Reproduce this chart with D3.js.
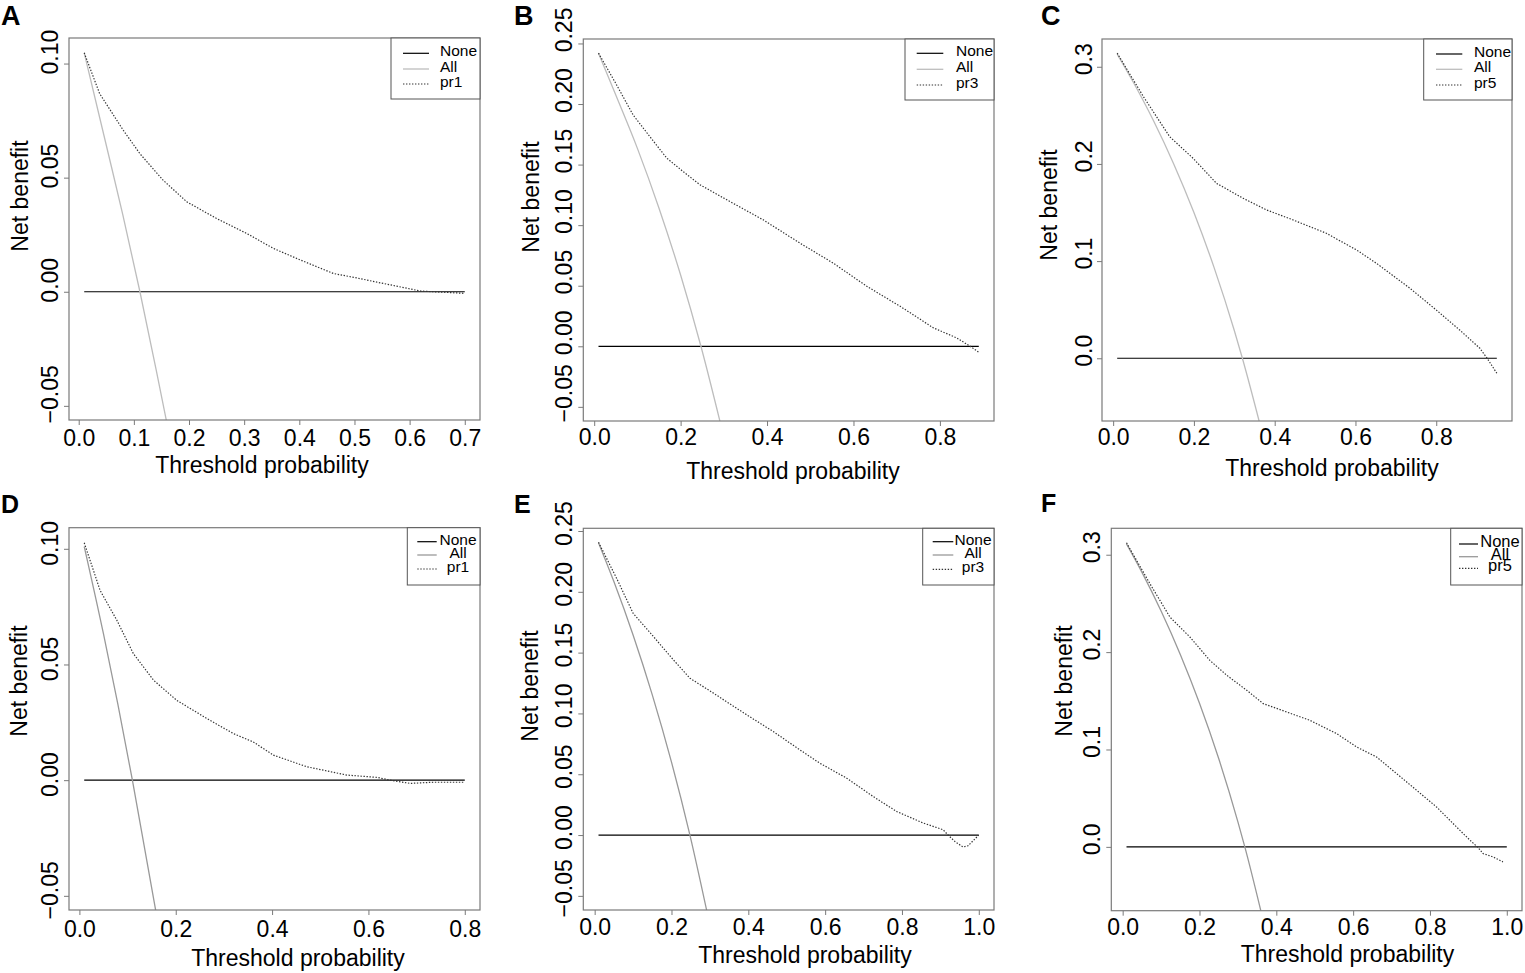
<!DOCTYPE html>
<html>
<head>
<meta charset="utf-8">
<script src="https://cdn.jsdelivr.net/npm/d3@7"></script>
<style>
  body { margin: 0; background: #fff; }
  text { font-family: "Liberation Sans", Arial, sans-serif; }
</style>
</head>
<body>
<div id="chart"></div>
<script>
// ---- data ----
const panelLetters = ["A", "B", "C", "D", "E", "F"];
const modelNames = ["pr1", "pr3", "pr5", "pr1", "pr3", "pr5"];
const legendLabels = ["None", "All"];

const xLimits = [[0.01, 0.70], [0.01, 0.89], [0.01, 0.95], [0.01, 0.80], [0.01, 1.0], [0.01, 1.0]];
const yLimits = [[-0.05, 0.105], [-0.05, 0.242], [-0.05, 0.314], [-0.05, 0.103], [-0.05, 0.2406], [-0.051, 0.3126]];

const xTicks = [
  [0.0, 0.1, 0.2, 0.3, 0.4, 0.5, 0.6, 0.7],
  [0.0, 0.2, 0.4, 0.6, 0.8],
  [0.0, 0.2, 0.4, 0.6, 0.8],
  [0.0, 0.2, 0.4, 0.6, 0.8],
  [0.0, 0.2, 0.4, 0.6, 0.8, 1.0],
  [0.0, 0.2, 0.4, 0.6, 0.8, 1.0]
];
const yTicks = [
  [-0.05, 0.00, 0.05, 0.10],
  [-0.05, 0.00, 0.05, 0.10, 0.15, 0.20, 0.25],
  [0.0, 0.1, 0.2, 0.3],
  [-0.05, 0.00, 0.05, 0.10],
  [-0.05, 0.00, 0.05, 0.10, 0.15, 0.20, 0.25],
  [0.0, 0.1, 0.2, 0.3]
];
const yTickFormats = [".2f", ".2f", ".1f", ".2f", ".2f", ".1f"];

// model curves (threshold, net benefit)
const modelThreshold = [
  [0.01, 0.038, 0.081, 0.111, 0.153, 0.196, 0.25, 0.305, 0.353, 0.402, 0.462, 0.499, 0.547, 0.596, 0.62, 0.668, 0.70],
  [0.01, 0.052, 0.09, 0.129, 0.168, 0.206, 0.245, 0.307, 0.391, 0.476, 0.553, 0.631, 0.708, 0.785, 0.839, 0.87, 0.89],
  [0.01, 0.075, 0.14, 0.198, 0.256, 0.322, 0.38, 0.446, 0.528, 0.603, 0.652, 0.735, 0.80, 0.858, 0.908, 0.926, 0.95],
  [0.01, 0.043, 0.078, 0.112, 0.154, 0.202, 0.265, 0.32, 0.361, 0.403, 0.472, 0.555, 0.618, 0.645, 0.687, 0.735, 0.80],
  [0.01, 0.057, 0.1, 0.153, 0.205, 0.248, 0.309, 0.396, 0.465, 0.534, 0.586, 0.656, 0.725, 0.786, 0.855, 0.907, 0.92, 0.938, 0.959, 0.972, 1.0],
  [0.01, 0.071, 0.123, 0.175, 0.227, 0.271, 0.323, 0.366, 0.427, 0.487, 0.557, 0.609, 0.661, 0.713, 0.765, 0.817, 0.86, 0.904, 0.925, 0.938, 0.964, 0.99]
];
const modelBenefit = [
  [0.1047, 0.0868, 0.0707, 0.0605, 0.0489, 0.0394, 0.0321, 0.0255, 0.019, 0.0139, 0.008, 0.0063, 0.0039, 0.0015, 0.0003, -0.0003, -0.0007],
  [0.242, 0.2157, 0.191, 0.173, 0.1553, 0.1442, 0.1333, 0.1209, 0.1044, 0.0852, 0.0687, 0.0495, 0.033, 0.0152, 0.0069, 0.0, -0.005],
  [0.314, 0.2692, 0.228, 0.2058, 0.18, 0.1646, 0.1526, 0.1423, 0.1286, 0.1114, 0.0977, 0.072, 0.0497, 0.0291, 0.0103, 0.0, -0.0154],
  [0.1026, 0.082, 0.069, 0.0547, 0.0432, 0.0345, 0.0266, 0.0201, 0.0165, 0.0108, 0.0058, 0.0022, 0.0012, 0.0, -0.0014, -0.0009, -0.0009],
  [0.2407, 0.2112, 0.1824, 0.1632, 0.144, 0.129, 0.1167, 0.0988, 0.0851, 0.0701, 0.0591, 0.0468, 0.0317, 0.0194, 0.0099, 0.0044, 0.0, -0.0053, -0.0099, -0.0088, 0.0],
  [0.3123, 0.2702, 0.236, 0.2155, 0.1915, 0.1762, 0.1608, 0.1471, 0.1385, 0.13, 0.1163, 0.1026, 0.0923, 0.0753, 0.0582, 0.041, 0.024, 0.0069, -0.0006, -0.0068, -0.0103, -0.0154]
];

// "treat all" curves
const allThreshold = [
  [0.01, 0.05, 0.08, 0.111, 0.14, 0.165],
  [0.01, 0.05, 0.10, 0.15, 0.20, 0.247, 0.30],
  [0.01, 0.05, 0.10, 0.15, 0.20, 0.25, 0.30, 0.32, 0.37],
  [0.01, 0.05, 0.08, 0.11, 0.14, 0.165],
  [0.01, 0.05, 0.10, 0.15, 0.20, 0.248, 0.30],
  [0.01, 0.05, 0.10, 0.15, 0.20, 0.25, 0.30, 0.318, 0.37]
];
const allBenefit = [
  [0.1047, 0.0642, 0.0337, 0.0, -0.0337, -0.0637],
  [0.242, 0.2074, 0.1634, 0.114, 0.0588, 0.0, -0.075],
  [0.313, 0.284, 0.2444, 0.20, 0.15, 0.0933, 0.0286, 0.0, -0.0784],
  [0.101, 0.0632, 0.0326, 0.0, -0.0349, -0.064],
  [0.2404, 0.2084, 0.1645, 0.1153, 0.06, 0.0, -0.0743],
  [0.3111, 0.2821, 0.2422, 0.1976, 0.1475, 0.0907, 0.0257, 0.0, -0.0825]
];

// "treat none" is zero across the threshold range
const noneBenefit = [0, 0];

// ---- layout (pixel positions of each panel) ----
const layout = [
  { box: [69, 38, 480, 420], letter: [1, 25, 27], yLab: 58.3, yLabShift: -12, xLab: 446, xTitle: [262, 473], yTitle: [28, 196],
    legend: { rect: [391, 38, 480, 99], line: [403, 429], textX: 440, anchor: "start", rows: [53.3, 69, 84], size: 15.5 }, allColor: "#bdbdbd" },
  { box: [583.3, 39, 994, 421], letter: [514, 25, 27], yLab: 571.7, yLabShift: -14, xLab: 445, xTitle: [793, 479], yTitle: [539, 197],
    legend: { rect: [905, 39, 994, 100], line: [916.7, 943.3], textX: 956, anchor: "start", rows: [53.3, 69.3, 85], size: 15.5 }, allColor: "#bdbdbd" },
  { box: [1102, 39, 1512, 421], letter: [1041, 25, 27], yLab: 1091.7, yLabShift: -8, xLab: 445, xTitle: [1332, 476], yTitle: [1056.7, 205],
    legend: { rect: [1423.7, 39, 1512, 100], line: [1436, 1462.3], textX: 1474, anchor: "start", rows: [54, 69.3, 85], size: 15.5 }, allColor: "#bdbdbd" },
  { box: [69, 527.7, 480, 910], letter: [1, 513, 25], yLab: 58.3, yLabShift: -6, xLab: 936.7, xTitle: [298, 966], yTitle: [27.3, 681],
    legend: { rect: [407.3, 527.7, 480, 585], line: [417.3, 436.7], textX: 458, anchor: "middle", rows: [541.7, 555, 569], size: 15.5 }, allColor: "#999" },
  { box: [583.3, 528.3, 994, 910], letter: [514, 513, 25], yLab: 571.7, yLabShift: -8, xLab: 935, xTitle: [805, 963], yTitle: [538, 686],
    legend: { rect: [922.7, 528.3, 994, 585], line: [932.7, 953.3], textX: 973, anchor: "middle", rows: [541.7, 555, 569.3], size: 15.5 }, allColor: "#999" },
  { box: [1111.3, 528.3, 1522, 910.7], letter: [1041, 512, 25], yLab: 1100, yLabShift: -8, xLab: 935, xTitle: [1347.5, 962], yTitle: [1071.7, 681],
    legend: { rect: [1450.7, 528.3, 1522, 585], line: [1459, 1478], textX: 1500, anchor: "middle", rows: [544, 556.7, 568.3], size: 16.5 }, allColor: "#999" }
];

const svg = d3.select("#chart").append("svg")
  .attr("width", 1525)
  .attr("height", 973)
  .style("background", "#fff");

const boxColor = "#7a7a7a";
const modelColor = "#333";
const modelDash = "1.4,1.6";

panelLetters.forEach((letter, i) => {
  const L = layout[i];
  const [x0, y0, x1, y1] = L.box;
  const xl = xLimits[i], yl = yLimits[i];
  const xr = xl[1] - xl[0], yr = yl[1] - yl[0];

  // R style 4% padding around the limits
  const x = d3.scaleLinear().domain([xl[0] - 0.04 * xr, xl[1] + 0.04 * xr]).range([x0, x1]);
  const y = d3.scaleLinear().domain([yl[0] - 0.04 * yr, yl[1] + 0.04 * yr]).range([y1, y0]);

  const g = svg.append("g");

  g.append("clipPath").attr("id", "clip" + i)
    .append("rect")
    .attr("x", x0).attr("y", y0)
    .attr("width", x1 - x0).attr("height", y1 - y0);

  const line = d3.line().x(d => x(d[0])).y(d => y(d[1]));
  const smooth = d3.line().x(d => x(d[0])).y(d => y(d[1])).curve(d3.curveMonotoneX);
  const lines = g.append("g").attr("clip-path", `url(#clip${i})`);

  // None
  lines.append("path")
    .datum(xl.map((t, k) => [t, noneBenefit[k]]))
    .attr("d", line)
    .attr("fill", "none")
    .attr("stroke", "#000")
    .attr("stroke-width", 1.2);

  // All
  lines.append("path")
    .datum(allThreshold[i].map((t, k) => [t, allBenefit[i][k]]))
    .attr("d", smooth)
    .attr("fill", "none")
    .attr("stroke", L.allColor)
    .attr("stroke-width", 1.3);

  // model
  lines.append("path")
    .datum(modelThreshold[i].map((t, k) => [t, modelBenefit[i][k]]))
    .attr("d", line)
    .attr("fill", "none")
    .attr("stroke", modelColor)
    .attr("stroke-width", 1.2)
    .attr("stroke-dasharray", modelDash);

  // x axis
  const xAxis = g.append("g")
    .attr("transform", `translate(0,${y1})`)
    .call(d3.axisBottom(x).tickValues(xTicks[i]).tickSize(5).tickSizeOuter(0).tickFormat(d3.format(".1f")));
  xAxis.select(".domain").remove();
  xAxis.selectAll("line").attr("stroke", boxColor);
  xAxis.selectAll("text")
    .attr("y", L.xLab - y1)
    .attr("dy", null)
    .attr("fill", "#000")
    .style("font-size", "23px")
    .style("font-family", '"Liberation Sans", Arial, sans-serif');

  // y axis, labels parallel to the axis like R
  const yAxis = g.append("g")
    .attr("transform", `translate(${x0},0)`)
    .call(d3.axisLeft(y).tickValues(yTicks[i]).tickSize(5).tickSizeOuter(0).tickFormat(d3.format(yTickFormats[i])));
  yAxis.select(".domain").remove();
  yAxis.selectAll("line").attr("stroke", boxColor);
  yAxis.selectAll("text")
    .attr("x", null)
    .attr("dy", null)
    .attr("text-anchor", "middle")
    .attr("transform", `translate(${L.yLab - x0},${L.yLabShift}) rotate(-90)`)
    .attr("fill", "#000")
    .style("font-size", "23px")
    .style("font-family", '"Liberation Sans", Arial, sans-serif');

  // plot box
  g.append("rect")
    .attr("x", x0).attr("y", y0)
    .attr("width", x1 - x0).attr("height", y1 - y0)
    .attr("fill", "none")
    .attr("stroke", boxColor)
    .attr("stroke-width", 1.2);

  // titles
  g.append("text")
    .attr("x", L.xTitle[0]).attr("y", L.xTitle[1])
    .attr("text-anchor", "middle")
    .style("font-size", "23px")
    .text("Threshold probability");

  g.append("text")
    .attr("transform", `translate(${L.yTitle[0]},${L.yTitle[1]}) rotate(-90)`)
    .attr("text-anchor", "middle")
    .style("font-size", "23px")
    .text("Net benefit");

  g.append("text")
    .attr("x", L.letter[0]).attr("y", L.letter[1])
    .style("font-size", L.letter[2] + "px")
    .style("font-weight", "bold")
    .text(letter);

  // legend
  const lg = L.legend;
  g.append("rect")
    .attr("x", lg.rect[0]).attr("y", lg.rect[1])
    .attr("width", lg.rect[2] - lg.rect[0]).attr("height", lg.rect[3] - lg.rect[1])
    .attr("fill", "#fff")
    .attr("stroke", "#555")
    .attr("stroke-width", 1);

  const entries = [
    { label: legendLabels[0], color: "#000", dash: null, width: 1.2 },
    { label: legendLabels[1], color: L.allColor, dash: null, width: 1.3 },
    { label: modelNames[i], color: modelColor, dash: modelDash, width: 1.2 }
  ];
  entries.forEach((e, k) => {
    g.append("line")
      .attr("x1", lg.line[0]).attr("x2", lg.line[1])
      .attr("y1", lg.rows[k]).attr("y2", lg.rows[k])
      .attr("stroke", e.color)
      .attr("stroke-width", e.width)
      .attr("stroke-dasharray", e.dash);
    g.append("text")
      .attr("x", lg.textX).attr("y", lg.rows[k] + 3)
      .attr("text-anchor", lg.anchor)
      .style("font-size", lg.size + "px")
      .text(e.label);
  });
});
</script>
</body>
</html>
